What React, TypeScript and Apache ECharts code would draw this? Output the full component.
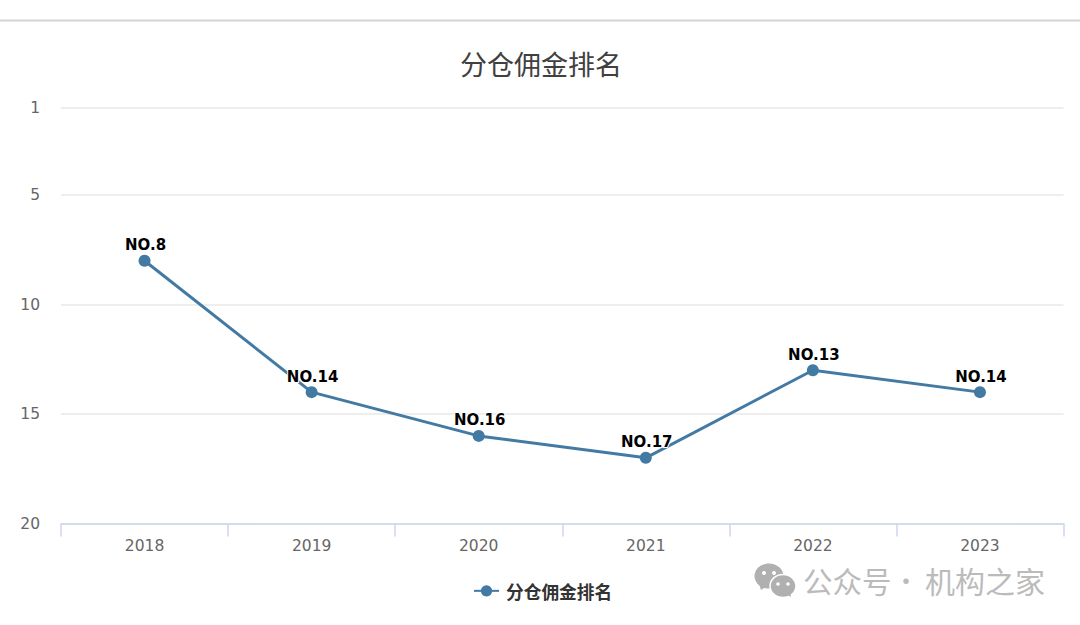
import React, { useEffect, useRef } from "react";
import * as echarts from "echarts";

const years = ["2018", "2019", "2020", "2021", "2022", "2023"];
const ranks = [8, 14, 16, 17, 13, 14];
const rankTicks = [1, 5, 10, 15, 20];
const seriesName = "分仓佣金排名";
const FONT = '"DejaVu Sans", "Noto Sans CJK SC", sans-serif';
const CJK = '"Noto Sans CJK SC", sans-serif';
const wmText = { fill: "#bbbbbb", textVerticalAlign: "middle", textBaseline: "middle" };

export default function App() {
  const ref = useRef<HTMLDivElement>(null);
  useEffect(() => {
    document.body.style.margin = "0";
    const chart = echarts.init(ref.current!, null, { renderer: "svg" });
    chart.setOption({
      animation: false,
      backgroundColor: "#fff",
      title: {
        text: seriesName,
        left: 536,
        textAlign: "center",
        top: 45,
        textStyle: { fontFamily: CJK, fontSize: 27, fontWeight: "normal", color: "#404040" },
      },
      legend: {
        data: [seriesName],
        left: 468,
        top: 577,
        itemWidth: 25,
        itemHeight: 14,
        itemGap: 8,
        textStyle: { fontFamily: CJK, fontSize: 17.7, fontWeight: "bold", color: "#333", padding: [0, 0, 0, 2] },
      },
      grid: { left: 61, right: 16.5, top: 107.5, bottom: 101.5, containLabel: false },
      xAxis: {
        type: "category",
        data: years,
        boundaryGap: true,
        axisLine: { show: true, lineStyle: { color: "#ccd6eb", width: 1.5 } },
        axisTick: { show: true, length: 13, lineStyle: { color: "#ccd6eb", width: 1.5 } },
        axisLabel: { fontFamily: FONT, fontSize: 15.5, color: "#666", margin: 15 },
        splitLine: { show: false },
      },
      yAxis: {
        type: "value",
        inverse: true,
        min: 1,
        max: 20,
        axisLine: { show: false },
        axisTick: { show: false, customValues: rankTicks },
        axisLabel: {
          customValues: rankTicks,
          fontFamily: FONT,
          fontSize: 15.5,
          color: "#666",
          margin: 21,
          padding: [5, 0, 0, 0],
        },
        splitLine: { show: true, lineStyle: { color: "#e8e8e8", width: 1.5 } },
      },
      series: [
        {
          name: seriesName,
          type: "line",
          data: ranks,
          symbol: "circle",
          symbolSize: 12,
          lineStyle: { color: "#437aa4", width: 3 },
          itemStyle: { color: "#437aa4" },
          label: {
            show: true,
            position: "top",
            distance: 2,
            offset: [1, 0],
            formatter: (p: any) => `NO.${p.value}`,
            fontFamily: FONT,
            fontSize: 15,
            fontWeight: "bold",
            color: "#000",
            textBorderColor: "#fff",
            textBorderWidth: 2,
          },
        },
      ],
      graphic: [
        { type: "line", shape: { x1: 0, y1: 20.5, x2: 1080, y2: 20.5 }, style: { stroke: "#d4d4d8", lineWidth: 2 } },
        { type: "ellipse", shape: { cx: 769, cy: 576, rx: 14.5, ry: 12.5 }, style: { fill: "#b0b0b0" } },
        { type: "polygon", shape: { points: [[759, 584], [761, 590], [767, 586]] }, style: { fill: "#b0b0b0" } },
        { type: "circle", shape: { cx: 764, cy: 573, r: 2 }, style: { fill: "#fff" } },
        { type: "circle", shape: { cx: 774, cy: 573, r: 2 }, style: { fill: "#fff" } },
        { type: "ellipse", shape: { cx: 783, cy: 586, rx: 13, ry: 11.5 }, style: { fill: "#b0b0b0", stroke: "#fff", lineWidth: 1.5 } },
        { type: "polygon", shape: { points: [[786, 594], [791, 597], [790, 591]] }, style: { fill: "#b0b0b0" } },
        { type: "circle", shape: { cx: 778, cy: 584, r: 1.8 }, style: { fill: "#fff" } },
        { type: "circle", shape: { cx: 788, cy: 584, r: 1.8 }, style: { fill: "#fff" } },
        { type: "text", x: 803, y: 579.5, style: { text: "公众号", font: `29.5px ${CJK}`, ...wmText } },
        { type: "text", x: 893, y: 579.5, style: { text: "·", font: `26px ${CJK}`, ...wmText } },
        { type: "text", x: 925, y: 579.5, style: { text: "机构之家", font: `30px ${CJK}`, ...wmText } },
      ],
    });
    return () => chart.dispose();
  }, []);
  return <div ref={ref} style={{ width: 1080, height: 625 }} />;
}
